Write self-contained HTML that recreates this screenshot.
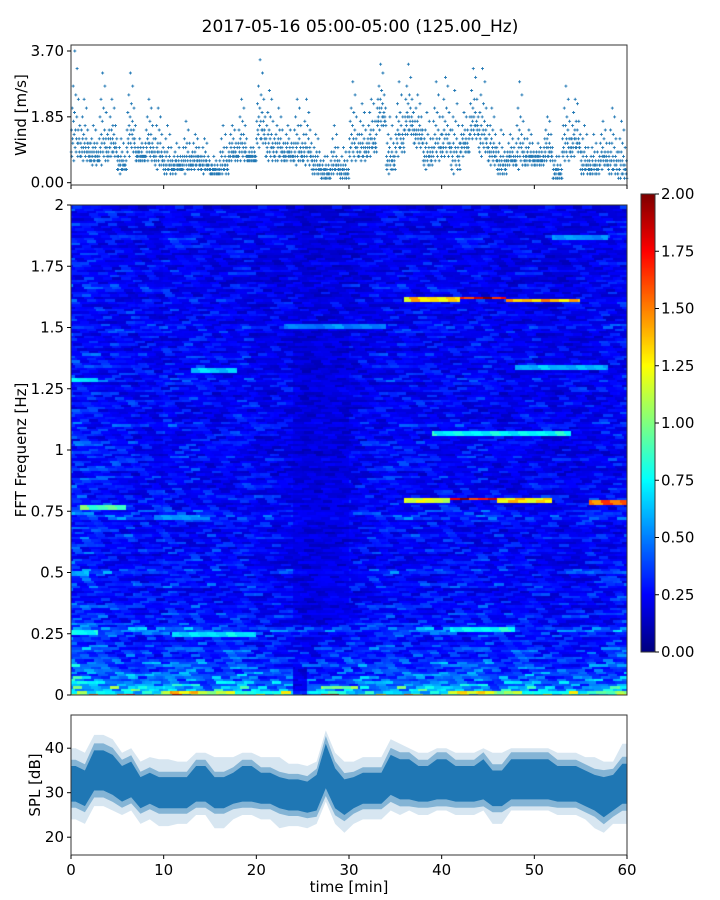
<!DOCTYPE html>
<html><head><meta charset="utf-8"><style>
body{margin:0;background:#fff;}
#wrap{position:relative;width:720px;height:900px;font-family:"DejaVu Sans","Liberation Sans",sans-serif;}
canvas{position:absolute;left:71px;top:205px;}
svg{position:absolute;left:0;top:0;}
text{font-family:"DejaVu Sans","Liberation Sans",sans-serif;fill:#000;}
</style></head><body>
<div id="wrap">
<canvas id="hm" width="556" height="490"></canvas>
<canvas id="cb" width="14" height="458" style="left:641px;top:194px"></canvas>
<svg id="s" width="720" height="900"></svg>
</div>
<script>
// ---------- data ----------
const minutes = Array.from({length:60},(_, i)=>i);
const windLo = [0.6,0.6,0.5,0.5,0.7,0.3,0.8,0.6,0.6,0.4,0.2,0.3,0.3,0.4,0.3,0.2,0.2,0.6,0.6,0.6,1.0,0.6,0.6,0.6,0.5,0.5,0.2,0.1,0.2,0.1,0.6,0.6,0.8,1.5,0.3,0.8,1.3,1.0,0.4,0.6,0.7,0.3,0.8,1.2,0.8,0.5,0.2,0.5,0.4,0.5,0.5,0.6,0.1,0.6,0.8,0.2,0.2,0.4,0.2,0.1];
const windHi = [3.7,2.3,1.6,3.1,2.3,1.2,3.1,1.2,2.4,2.1,1.6,1.1,1.7,1.4,1.2,0.7,1.6,1.6,2.4,1.0,3.4,2.6,2.1,1.6,2.4,2.3,1.4,0.8,1.6,1.0,2.8,2.2,2.4,3.3,1.8,2.8,3.3,2.5,2.0,2.8,3.0,2.6,2.0,3.2,3.2,2.1,1.5,1.3,2.8,1.5,1.1,1.9,0.8,2.7,2.4,1.6,1.3,1.7,2.1,1.7];
const windFrac = [0.1,0.3,0.05,0.5,0.2,0.15,0.7,0.35,0.0,0.25,0.45,1.0,0.12,0.3,0.6,0.08,0.22,0.4,0.85,0.18,0.03,0.28,0.55,0.15,0.2,0.1,0.33,0.05];
const windTicks = [0, 1.85, 3.70];

const splMean = [32,31,35,35,34,32,33,30,31,30,30,30,30,32,32,30,30,31,32,32,31,31,30,29.5,29.5,29,30,36,31,29,30,31,31,31,34,33,33,32,32,33,33,32,32,32,33,31,31,33,33,33,33,33,32,32,32,31,30,29,30,32];
const splSpread = [4,4,4.5,4.5,4.5,4,4,3.5,3.5,3.5,3.5,3.5,3.5,4,4,3.5,3.5,3.5,4,4,3.5,3.5,3.5,3.5,3.5,3.5,4,5,4.5,4,3.5,3.5,3.5,3.5,4.5,4.5,4.5,4,4,4.5,4.5,4,4,4,4.5,4,4,4.5,4.5,4.5,4.5,4.5,4,4,4,4,4,4.5,4,4.5];
const splExt = [8,8,8,8,8,7,7,7,7,7.5,7.5,7,7,7,7,8,8,7,7,7,7,7,8,7,7,7,7,8,8,8,7,7,7,7,8,8,7,7,7,7,7,7,7,7,7,8,8,7,7,7,7,7,7,7,7,7,8,8,7,9];
const splTicks = [20,30,40];
const timeTicks = [0,10,20,30,40,50,60];

// spectrogram: row base levels (0.02 Hz rows, index 0 = 0 Hz)
const rowBase = [0.9,0.6,0.5,0.45,0.42,0.38,0.4,0.35,0.32,0.35,0.3,0.28,0.32,0.42,0.3,0.27,0.3,0.26,0.28,0.25,
0.27,0.24,0.3,0.26,0.25,0.33,0.24,0.26,0.23,0.27,0.25,0.24,0.28,0.23,0.25,0.26,0.33,0.3,0.24,0.25,
0.27,0.23,0.25,0.24,0.26,0.22,0.25,0.24,0.27,0.23,0.24,0.26,0.22,0.25,0.24,0.28,0.23,0.24,0.22,0.25,
0.24,0.22,0.26,0.23,0.28,0.24,0.22,0.24,0.23,0.26,0.22,0.24,0.23,0.22,0.25,0.28,0.22,0.23,0.24,0.22,
0.25,0.22,0.23,0.26,0.21,0.22,0.24,0.22,0.23,0.21,0.22,0.24,0.23,0.26,0.22,0.21,0.23,0.22,0.24,0.22];
const colFactor = [1.25,1.2,1.2,1.15,1.15,1.1,1.1,1.0,1.05,1.0,1.1,1.05,1.05,1.1,1.05,1.0,1.0,1.0,1.05,1.0,0.95,0.95,0.9,0.9,0.85,0.8,0.8,0.85,0.85,0.85,0.9,0.95,0.95,1.0,1.05,1.05,1.05,1.0,1.0,1.0,1.05,1.0,1.0,1.0,1.05,1.0,0.95,0.95,0.95,1.0,0.95,0.95,0.9,0.9,0.9,0.95,1.0,1.0,1.0,1.05];
const texture = [1.0,0.7,1.3,0.85,1.15,0.6,1.45,0.9,1.05,0.75,1.2,0.95,0.8,0.55,1.1,1.6,0.65,0.9,1.25,0.8,1.0,0.7,1.35,0.95,0.6,1.15,0.85,1.05,0.75,1.5,0.9];
const lineFreq = [1.62,1.625,1.615,0.80,0.805,0.80,0.79,1.07,1.33,1.34,1.29,0.26,0.25,0.27,0.77,0.73,0.5,1.51,1.87,0.005,0.005,0.005,0.035,0.015];
const lineT0 =   [36,42,47,36,41,46,56,39,13,48,0,0,11,41,1,9,0,23,52,6,11,27,27,41];
const lineT1 =   [42,47,55,41,46,52,60,54,18,58,3,3,20,48,6,14,2,34,58,7,12,29,31,46];
const lineVal =  [1.3,1.8,1.4,1.2,1.75,1.3,1.55,0.75,0.65,0.6,0.7,0.8,0.7,0.75,0.9,0.55,0.6,0.5,0.55,1.7,1.8,1.9,1.0,1.1];
const darkF0=[0,0.3], darkF1=[0.12,1.5], darkT0=[24,24], darkT1=[25.5,30], darkVal=[0.05,0.12];
const cbTicks = [0,0.25,0.5,0.75,1,1.25,1.5,1.75,2];
const freqTicks = [0,0.25,0.5,0.75,1,1.25,1.5,1.75,2];
const freqLabels = ["0","0.25","0.5","0.75","1","1.25","1.5","1.75","2"];

// ---------- scales ----------
const X0=71, X1=627;
const xs = t => X0 + t/60*(X1-X0);
const wy = v => 182.7 - v*(182.7-51)/3.7;
const fy = f => 695 - f/2*490;
const sy = v => 792.7 - (v-30)*4.45;
const cy = v => 652 - v/2*458;

function jet(v){
  const x=Math.max(0,Math.min(1,v/2));
  const c=t=>Math.round(255*Math.max(0,Math.min(1,1.5-Math.abs(4*x-t))));
  return `rgb(${c(3)},${c(2)},${c(1)})`;
}

// ---------- heatmap ----------
const hm=document.getElementById('hm').getContext('2d');
const nCols=240, nRows=rowBase.length*2, df=0.01;
for(let r=0;r<nRows;r++){
  const f=r*df+df/2;
  for(let c=0;c<nCols;c++){
    const t=(c+0.5)/4;
    const seg=Math.floor((c+(r*5)%4)/4);
    const tx=texture[(r*r*5+r*11+seg*(r%7+3))%texture.length];
    let v=rowBase[Math.floor(r/2)]*colFactor[Math.floor(t)]*tx;
    for(let k=0;k<lineFreq.length;k++){
      if(Math.abs(lineFreq[k]-f)<df/2+1e-9 && t>=lineT0[k] && t<lineT1[k]) v=Math.max(v,lineVal[k]*(0.75+0.25*texture[(seg+k)%texture.length]));
    }
    for(let k=0;k<darkF0.length;k++){
      if(f>=darkF0[k]&&f<darkF1[k]&&t>=darkT0[k]&&t<darkT1[k]) v=Math.min(v,darkVal[k]+v*0.4);
    }
    hm.fillStyle=jet(v);
    const x0=xs(c/4)-X0, x1=xs((c+1)/4)-X0;
    const y0=fy(f+df/2)-205, y1=fy(f-df/2)-205;
    hm.fillRect(Math.floor(x0),Math.floor(y0),Math.ceil(x1-x0)+1,Math.ceil(y1-y0)+1);
  }
}
const cb=document.getElementById('cb').getContext('2d');
for(let i=0;i<458;i++){cb.fillStyle=jet((457-i)/457*2);cb.fillRect(0,i,14,1);}

// ---------- svg ----------
const NS='http://www.w3.org/2000/svg';
const svg=document.getElementById('s');
function el(tag,attrs,parent){const e=document.createElementNS(NS,tag);for(const k in attrs)e.setAttribute(k,attrs[k]);(parent||svg).appendChild(e);return e;}
function txt(x,y,s,size,anchor,rot){const t=el('text',{x:x,y:y,'font-size':size,'text-anchor':anchor||'middle'});if(rot)t.setAttribute('transform',`rotate(-90 ${x} ${y})`);t.textContent=s;return t;}

let t=txt(360,32,'2017-05-16 05:00-05:00 (125.00_Hz)',17);



// wind panel
let g=el('g',{});


let d='';
minutes.forEach(m=>{
  windFrac.forEach((fr,j)=>{
    let v=windLo[m]+fr*(windHi[m]-windLo[m]);
    v=Math.round(v/0.1233)*0.1233;
    const x=xs(m+(j+0.5)/windFrac.length), y=wy(v);
    d+=`M${(x-1.5).toFixed(1)} ${y.toFixed(1)}h3M${x.toFixed(1)} ${(y-1.5).toFixed(1)}v3`;
  });
});
el('path',{d:d,stroke:'#1f77b4','stroke-width':0.9,fill:'none'},g);
let fr=el('rect',{x:X0,y:45,width:X1-X0,height:140,fill:'none',stroke:'#333','stroke-width':1});


windTicks.forEach((v,i)=>{el('line',{x1:X0-4,x2:X0,y1:wy(v),y2:wy(v),stroke:'#000'});
  const l=txt(X0-7,wy(v)+5,v.toFixed(2),15,'end');
  
  });
timeTicks.forEach(v=>el('line',{x1:xs(v),x2:xs(v),y1:185,y2:189,stroke:'#000'}));
t=txt(26,115,'Wind [m/s]',15,'middle',true);



// spectrogram axes
fr=el('rect',{x:X0,y:205,width:X1-X0,height:490,fill:'none',stroke:'#333','stroke-width':1});


freqTicks.forEach((v,i)=>{el('line',{x1:X0-4,x2:X0,y1:fy(v),y2:fy(v),stroke:'#000'});
  const l=txt(X0-7,fy(v)+5,freqLabels[i],15,'end');
  
  });
t=txt(26,450,'FFT Frequenz [Hz]',15,'middle',true);



// colorbar
el('rect',{x:641,y:194,width:14,height:458,fill:'none',stroke:'#333','stroke-width':1});
cbTicks.forEach(v=>{el('line',{x1:655,x2:659,y1:cy(v),y2:cy(v),stroke:'#000'});
  const l=txt(661,cy(v)+5,v.toFixed(2),15,'start');
  
  });

// SPL panel
g=el('g',{});


function band(lo,hi){let p='M'+xs(0)+' '+sy(hi(0)).toFixed(1);
  minutes.forEach(m=>{p+='L'+xs(m+0.5).toFixed(1)+' '+sy(hi(m)).toFixed(1);});
  p+='L'+xs(60)+' '+sy(hi(59)).toFixed(1)+'L'+xs(60)+' '+sy(lo(59)).toFixed(1);
  for(let m=59;m>=0;m--)p+='L'+xs(m+0.5).toFixed(1)+' '+sy(lo(m)).toFixed(1);
  p+='L'+xs(0)+' '+sy(lo(0)).toFixed(1)+'Z';return p;}
el('path',{d:band(m=>splMean[m]-splExt[m],m=>splMean[m]+splExt[m]),fill:'#1f77b4','fill-opacity':0.18},g);
el('path',{d:band(m=>splMean[m]-splSpread[m]*1.35,m=>splMean[m]+splSpread[m]*1.35),fill:'#1f77b4','fill-opacity':0.45},g);
el('path',{d:band(m=>splMean[m]-splSpread[m],m=>splMean[m]+splSpread[m]),fill:'#1f77b4'},g);
fr=el('rect',{x:X0,y:715,width:X1-X0,height:140,fill:'none',stroke:'#333','stroke-width':1});


splTicks.forEach(v=>{el('line',{x1:X0-4,x2:X0,y1:sy(v),y2:sy(v),stroke:'#000'});
  const l=txt(X0-7,sy(v)+5,String(v),15,'end');
  
  });
timeTicks.forEach(v=>{el('line',{x1:xs(v),x2:xs(v),y1:855,y2:859,stroke:'#000'});
  const l=txt(xs(v),875,String(v),15,'middle');
  
  });
t=txt(40,785,'SPL [dB]',15,'middle',true);


t=txt(349,892,'time [min]',15,'middle');


</script>
</body></html>
